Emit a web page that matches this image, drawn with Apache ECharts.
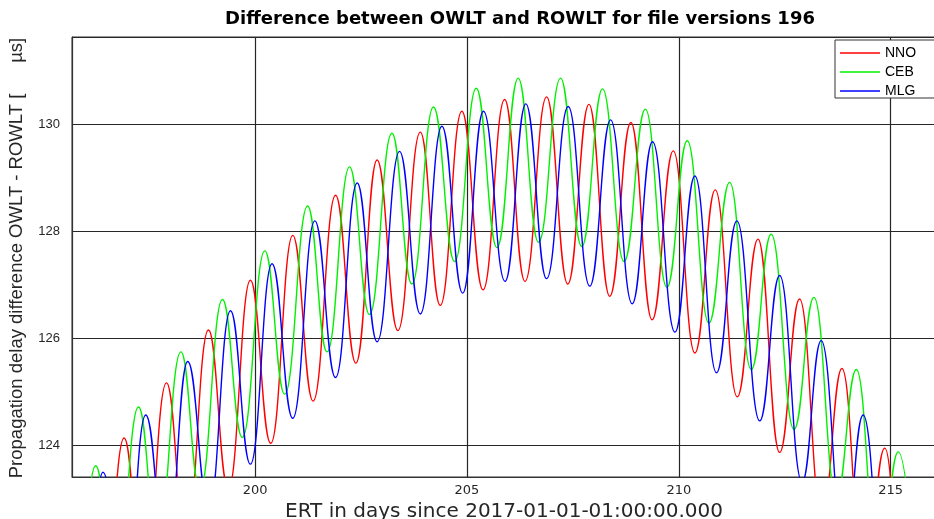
<!DOCTYPE html>
<html>
<head>
<meta charset="utf-8">
<script src="https://cdn.jsdelivr.net/npm/echarts@6/dist/echarts.min.js"></script>
<style>
html,body{margin:0;padding:0;background:#fff;}
#chart{width:934px;height:519px;}
</style>
</head>
<body>
<div id="chart"></div>
<script>
// Extrema (peak / trough): day (ERT) and value (µs)
var nnoDays = [195.37,195.91,196.37,196.91,197.37,197.91,198.37,198.90,199.37,199.89,200.37,200.89,201.37,201.90,202.38,202.88,203.37,203.90,204.37,204.88,205.38,205.89,206.37,206.88,207.38,207.88,208.37,208.87,209.37,209.87,210.38,210.86,211.38,211.87,212.38,212.85,213.38,213.85,214.38,214.86,215.38,215.86];
var nnoVals = [118.9,123.0,120.1,124.14,121.2,125.17,122.2,126.16,123.18,127.09,124.04,127.93,124.83,128.68,125.54,129.34,126.15,129.86,126.62,130.25,126.91,130.47,127.07,130.52,127.02,130.38,126.79,130.04,126.35,129.51,125.73,128.78,124.91,127.86,123.87,126.74,122.64,125.44,121.25,123.95,119.7,122.3];

var cebDays = [195.24,195.70,196.24,196.70,197.25,197.70,198.25,198.70,199.23,199.70,200.23,200.70,201.24,201.70,202.23,202.70,203.23,203.70,204.21,204.71,205.22,205.71,206.21,206.69,207.21,207.71,208.20,208.71,209.21,209.72,210.20,210.71,211.20,211.71,212.18,212.72,213.19,213.72,214.19,214.72,215.18,215.72];
var cebVals = [122.4,119.9,123.62,121.1,124.72,122.17,125.75,123.17,126.73,124.15,127.64,124.96,128.48,125.75,129.21,126.45,129.84,127.02,130.33,127.44,130.68,127.70,130.87,127.80,130.87,127.72,130.67,127.44,130.29,126.96,129.70,126.29,128.92,125.42,127.95,124.30,126.77,123.03,125.42,121.58,123.88,120.0];

var mlgDays = [195.41,195.91,196.41,196.91,197.42,197.91,198.41,198.91,199.42,199.89,200.40,200.89,201.41,201.90,202.41,202.88,203.41,203.90,204.41,204.90,205.39,205.90,206.39,206.88,207.39,207.90,208.39,208.90,209.38,209.91,210.38,210.89,211.37,211.91,212.38,212.91,213.36,213.91,214.35,214.91,215.35,215.85];
var mlgVals = [122.3,119.6,123.50,120.78,124.57,121.81,125.57,122.79,126.52,123.65,127.40,124.51,128.20,125.27,128.91,125.94,129.50,126.46,129.97,126.85,130.25,127.07,130.39,127.12,130.34,126.98,130.09,126.65,129.68,126.12,129.04,125.36,128.20,124.46,127.18,123.31,125.96,122.0,124.57,120.5,123.0,119.3];

var seriesNames = ['NNO','CEB','MLG'];
var xTicks = [200,205,210,215];
var yTicks = [124,126,128,130];

function pairs(d, v){ return d.map(function(x,i){ return [x, v[i]]; }); }

var chart = echarts.init(document.getElementById('chart'), null, {renderer:'canvas'});
var FONT = '"Liberation Sans", Arial, sans-serif';
var DFONT = '"DejaVu Sans", sans-serif';
var colors = ['#ff0000','#00f000','#0000ff'];
var dataSets = [pairs(nnoDays,nnoVals), pairs(cebDays,cebVals), pairs(mlgDays,mlgVals)];

var option = {
  animation:false,
  backgroundColor:'#ffffff',
  title:{
    text:'Difference between OWLT and ROWLT for file versions 196',
    left:515, top:5, textAlign:'center',
    textStyle:{fontFamily:DFONT, fontSize:18, fontWeight:'bold', color:'#000'}
  },
  legend:{
    data:seriesNames,
    orient:'vertical',
    left:835, top:40,
    icon:'rect',
    itemWidth:40, itemHeight:1.5, itemGap:5,
    padding:[6,30,0,5],
    borderColor:'#333', borderWidth:1,
    backgroundColor:'#fff',
    textStyle:{fontFamily:FONT, fontSize:14, color:'#000'}
  },
  grid:{left:72, right:-2, top:37, bottom:42, outerBoundsMode:'none', containLabel:false,
    show:true, borderColor:'#333', borderWidth:1, backgroundColor:'transparent'},
  xAxis:{
    type:'value', min:195.68, max:216.07, splitNumber:4,
    name:'ERT in days since 2017-01-01-01:00:00.000',
    nameLocation:'middle', nameGap:23,
    nameTextStyle:{fontFamily:DFONT, fontSize:20, color:'#262626'},
    axisLine:{show:true, lineStyle:{color:'#333', width:1}},
    axisTick:{show:false},
    axisLabel:{margin:7, fontFamily:DFONT, fontSize:13, color:'#262626',
      customValues:xTicks},
    splitLine:{show:true, lineStyle:{color:'#262626', width:1.2}}
  },
  yAxis:{
    type:'value', min:123.41, max:131.64, splitNumber:4,
    name:'Propagation delay difference OWLT - ROWLT [      µs]',
    nameLocation:'middle', nameGap:46, nameRotate:90,
    nameTextStyle:{fontFamily:FONT, fontSize:18.5, color:'#262626', padding:[0,2,0,0]},
    axisLine:{show:true, lineStyle:{color:'#333', width:1}},
    axisTick:{show:false},
    axisLabel:{margin:12, fontFamily:FONT, fontSize:13, color:'#262626',
      customValues:yTicks},
    splitLine:{show:true, lineStyle:{color:'#262626', width:1.2}}
  },
  series: seriesNames.map(function(n,i){
    return {
      name:n, type:'line', data:dataSets[i],
      symbol:'none', smooth:0.45, smoothMonotone:'x',
      clip:true,
      lineStyle:{color:colors[i], width:1.4},
      itemStyle:{color:colors[i]}
    };
  })
};
chart.setOption(option);
</script>
</body>
</html>
